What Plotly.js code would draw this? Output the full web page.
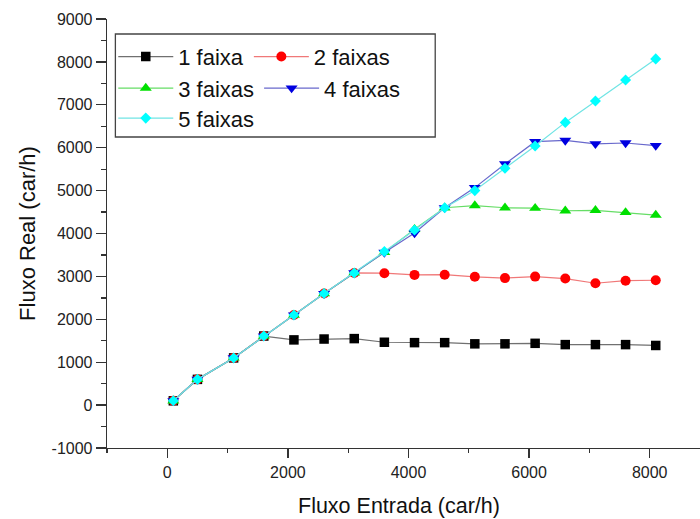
<!DOCTYPE html>
<html>
<head>
<meta charset="utf-8">
<script src="https://cdn.plot.ly/plotly-3.0.1.min.js"></script>
<style>
html, body { margin: 0; padding: 0; overflow: hidden; background: #fff; }
#chart { width: 720px; height: 519px; }
</style>
</head>
<body>
<div id="chart"></div>
<script>
// Data
const entrada = [100, 500, 1100, 1600, 2100, 2600, 3100, 3600, 4100, 4600, 5100, 5600, 6100, 6600, 7100, 7600, 8100];
const faixa1 = [100, 600, 1100, 1610, 1520, 1540, 1550, 1465, 1456, 1456, 1428, 1428, 1440, 1410, 1410, 1410, 1390];
const faixa2 = [100, 600, 1100, 1610, 2100, 2600, 3080, 3075, 3035, 3040, 2990, 2960, 2995, 2950, 2840, 2900, 2910];
const faixa3 = [100, 600, 1100, 1610, 2100, 2600, 3080, 3560, 4100, 4600, 4650, 4600, 4590, 4530, 4540, 4490, 4430];
const faixa4 = [100, 600, 1100, 1610, 2100, 2600, 3080, 3560, 4010, 4600, 5070, 5620, 6140, 6170, 6090, 6110, 6050];
const faixa5 = [100, 600, 1100, 1610, 2100, 2600, 3080, 3580, 4080, 4600, 5000, 5520, 6040, 6590, 7090, 7580, 8070];
const seriesNames = ['1 faixa', '2 faixas', '3 faixas', '4 faixas', '5 faixas'];
const yTickVals = [-1000, 0, 1000, 2000, 3000, 4000, 5000, 6000, 7000, 8000, 9000];
const yTickText = ['-1000', '0', '1000', '2000', '3000', '4000', '5000', '6000', '7000', '8000', '9000'];
const xTickVals = [0, 2000, 4000, 6000, 8000];
const xTickText = ['0', '2000', '4000', '6000', '8000'];
const xTitle = 'Fluxo Entrada (car/h)';
const yTitle = 'Fluxo Real (car/h)';

const FONT = 'Arial, "Liberation Sans", Helvetica, sans-serif';
const styles = [
  {line: '#707070', marker: '#000000', symbol: 'square', size: 9.5, legend: 'legend'},
  {line: '#f07878', marker: '#ff0000', symbol: 'circle', size: 10, legend: 'legend'},
  {line: '#66dd66', marker: '#00e000', symbol: 'triangle-up', size: 10.5, legend: 'legend2'},
  {line: '#6868cc', marker: '#0000e0', symbol: 'triangle-down', size: 10.5, legend: 'legend2'},
  {line: '#70e4e4', marker: '#00ffff', symbol: 'diamond', size: 8.5, legend: 'legend3'}
];
const ys = [faixa1, faixa2, faixa3, faixa4, faixa5];

const traces = ys.map((y, i) => ({
  type: 'scatter',
  mode: 'lines+markers',
  name: seriesNames[i],
  x: entrada,
  y: y,
  line: {color: styles[i].line, width: 1.2},
  marker: {color: styles[i].marker, symbol: styles[i].symbol, size: styles[i].size, line: {width: 0}},
  legend: styles[i].legend
}));

const legendBase = {
  orientation: 'h',
  xanchor: 'left',
  yanchor: 'middle',
  x: 0.0104,
  bgcolor: 'rgba(0,0,0,0)',
  borderwidth: 0,
  itemwidth: 55,
  font: {family: FONT, size: 22, color: '#111'},
  tracegroupgap: 0
};

const layout = {
  width: 720,
  height: 519,
  margin: {l: 107, r: 10, t: 19, b: 71},
  paper_bgcolor: '#ffffff',
  plot_bgcolor: '#ffffff',
  showlegend: true,
  legend: Object.assign({}, legendBase, {y: 0.912}),
  legend2: Object.assign({}, legendBase, {y: 0.8385}),
  legend3: Object.assign({}, legendBase, {y: 0.7685}),
  xaxis: {
    range: [-1000, 9000],
    tickmode: 'array',
    tickvals: xTickVals,
    ticktext: xTickText,
    ticks: 'outside',
    ticklen: 9,
    tickwidth: 1.3,
    tickcolor: '#333',
    minor: {ticks: 'outside', dtick: 1000, tick0: 0, ticklen: 4, tickwidth: 1.3, tickcolor: '#333', showgrid: false},
    showline: true,
    linecolor: '#333',
    linewidth: 1.3,
    showgrid: false,
    zeroline: false,
    tickfont: {family: FONT, size: 16, color: '#222'},
    automargin: false
  },
  xaxis2: {
    overlaying: 'x',
    side: 'top',
    anchor: 'y',
    range: [-1000, 9000],
    tick0: 0,
    dtick: 1000,
    ticks: 'inside',
    ticklen: 7,
    tickwidth: 1.3,
    tickcolor: '#333',
    showticklabels: false,
    showline: true,
    linecolor: '#333',
    linewidth: 1.3,
    showgrid: false,
    zeroline: false
  },
  yaxis: {
    range: [-1000, 9000],
    tickmode: 'array',
    tickvals: yTickVals,
    ticktext: yTickText,
    ticks: 'outside',
    ticklen: 10,
    tickwidth: 1.3,
    tickcolor: '#333',
    minor: {ticks: 'outside', dtick: 500, tick0: 0, ticklen: 5, tickwidth: 1.3, tickcolor: '#333', showgrid: false},
    showline: true,
    linecolor: '#333',
    linewidth: 1.3,
    showgrid: false,
    zeroline: false,
    tickfont: {family: FONT, size: 16, color: '#222'},
    title: {text: yTitle, font: {family: FONT, size: 22, color: '#111'}, standoff: 10},
    automargin: false
  },
  annotations: [{
    text: xTitle,
    xref: 'paper', yref: 'paper',
    x: 0.4843, y: -0.1352,
    xanchor: 'center', yanchor: 'middle',
    showarrow: false,
    borderpad: 0,
    font: {family: FONT, size: 21.5, color: '#111'}
  }],
  shapes: [{
    type: 'rect', xref: 'paper', yref: 'paper',
    x0: 0.0139, x1: 0.5443, y0: 0.725, y1: 0.965,
    line: {color: '#444', width: 1.3},
    fillcolor: 'rgba(255,255,255,0)',
    layer: 'above'
  }]
};

Plotly.newPlot('chart', traces, layout, {displayModeBar: false, staticPlot: true});
</script>
</body>
</html>
